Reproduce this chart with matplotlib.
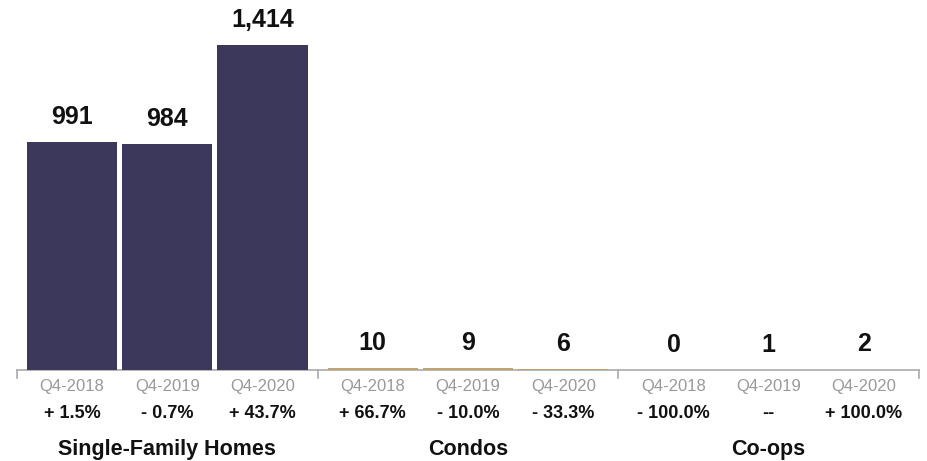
import matplotlib
matplotlib.use("Agg")
import matplotlib.pyplot as plt
import matplotlib.transforms as mtransforms

plt.rcParams['font.family'] = ['Liberation Sans', 'DejaVu Sans']

groups = ["Single-Family Homes", "Condos", "Co-ops"]
periods = ["Q4-2018", "Q4-2019", "Q4-2020"]
values = [[991, 984, 1414], [10, 9, 6], [0, 1, 2]]
value_labels = [["991", "984", "1,414"], ["10", "9", "6"], ["0", "1", "2"]]
changes = [["+ 1.5%", "- 0.7%", "+ 43.7%"],
           ["+ 66.7%", "- 10.0%", "- 33.3%"],
           ["- 100.0%", "--", "+ 100.0%"]]
colors = ["#3B385C", "#C2A472", "#A8A8A8"]

W, H = 928, 461
fig = plt.figure(figsize=(W / 100, H / 100), dpi=100)
left, right = 17, 919
base = 370
ax = fig.add_axes([left / W, (H - base) / H, (right - left) / W, base / H])
ax.set_xlim(0, 9)
ax.set_ylim(0, 1414 * base / 325)
ax.axis('off')

offsets = [0.55, 1.5, 2.45]
trans = mtransforms.blended_transform_factory(ax.transData, fig.transFigure)

def fy(py):
    return (H - py) / H

for g, grp in enumerate(groups):
    for i in range(3):
        x = g * 3 + offsets[i]
        v = values[g][i]
        ax.bar(x, v, width=0.9, color=colors[g], linewidth=0)
        ax.annotate(value_labels[g][i], (x, v), xytext=(0, 13), textcoords='offset points',
                    ha='center', va='baseline', fontsize=18, fontweight='bold', color='#111111')
        fig.text(x, fy(386), periods[i], transform=trans, ha='center', va='center',
                 fontsize=12, color='#999999')
        fig.text(x, fy(413), changes[g][i], transform=trans, ha='center', va='center',
                 fontsize=13, fontweight='bold', color='#111111')
    fig.text(g * 3 + 1.5, fy(455), grp, transform=trans, ha='center', va='baseline',
             fontsize=15.5, fontweight='bold', color='#111111')

# baseline axis line and group dividers
ax.plot([0, 9], [0, 0], color='#AAAAAA', lw=1.2, clip_on=False, zorder=0)
for xd in [0, 3, 6, 9]:
    fig.add_artist(plt.Line2D([xd, xd], [fy(370), fy(378)], transform=trans,
                              color='#AAAAAA', lw=1.2))

fig.savefig("out.png", dpi=100)
